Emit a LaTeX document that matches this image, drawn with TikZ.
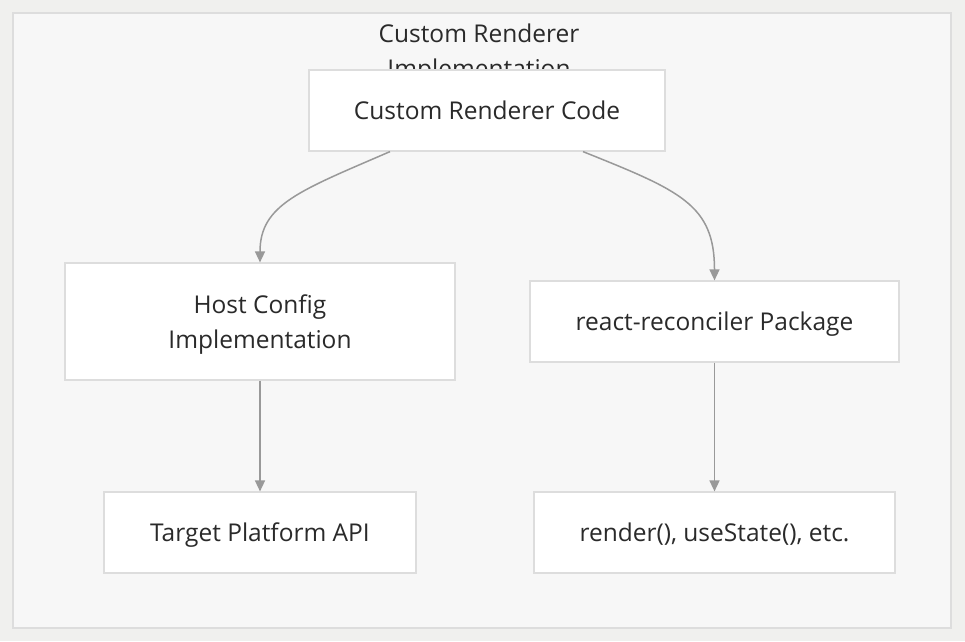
\documentclass[tikz,border=0pt]{standalone}
\usepackage{fontspec}
\setmainfont{Open Sans}
\usetikzlibrary{arrows.meta}
\definecolor{pagebg}{HTML}{F0F0EE}
\definecolor{clusterbg}{HTML}{F7F7F7}
\definecolor{boxline}{HTML}{DDDDDD}
\definecolor{edgeline}{HTML}{999999}
\definecolor{txt}{HTML}{2A2A2A}
\begin{document}
\begin{tikzpicture}[x=1pt, y=-1pt,
    box/.style={draw=boxline, line width=1.2pt, fill=white, text=txt,
      font=\fontsize{24.5}{35}\selectfont, align=center, inner sep=0pt,
      text height=23pt, text depth=6pt},
    edge/.style={draw=edgeline, line width=1.5pt,
      -{Triangle[width=10pt,length=11pt]}}]
    \useasboundingbox [fill=pagebg] (0, 0) rectangle (965, 641);
    \node [draw=boxline, line width=1.2pt, fill=clusterbg, minimum width=938pt,
      minimum height=615pt, inner sep=0pt] (cluster) at (482, 320.5) {};
    \node [text=txt, font=\fontsize{24.5}{35}\selectfont, align=center] (title) at (479, 54)
      {Custom Renderer\\Implementation};
    \node [box, minimum width=356pt, minimum height=81pt] (code) at (487, 110.5) {Custom Renderer Code};
    \node [box, minimum width=390pt, minimum height=117pt, text height=59pt] (host) at (260, 321.5) {Host Config\\Implementation};
    \node [box, minimum width=369pt, minimum height=81pt] (react) at (714.5, 321.5) {react-reconciler Package};
    \node [box, minimum width=312pt, minimum height=81pt] (target) at (260, 532.5) {Target Platform API};
    \node [box, minimum width=361pt, minimum height=81pt] (hooks) at (714.5, 532.5) {render(), useState(), etc.};
    \draw [edge] ([xshift=-97pt]code.south) .. controls +(-90, 39) and +(0, -58) .. (host.north);
    \draw [edge] ([xshift=96pt]code.south) .. controls +(97, 39) and +(0, -76) .. (react.north);
    \draw [edge] (host) -- (target);
    \draw [edge] (react) -- (hooks);
  \end{tikzpicture}
\end{document}
